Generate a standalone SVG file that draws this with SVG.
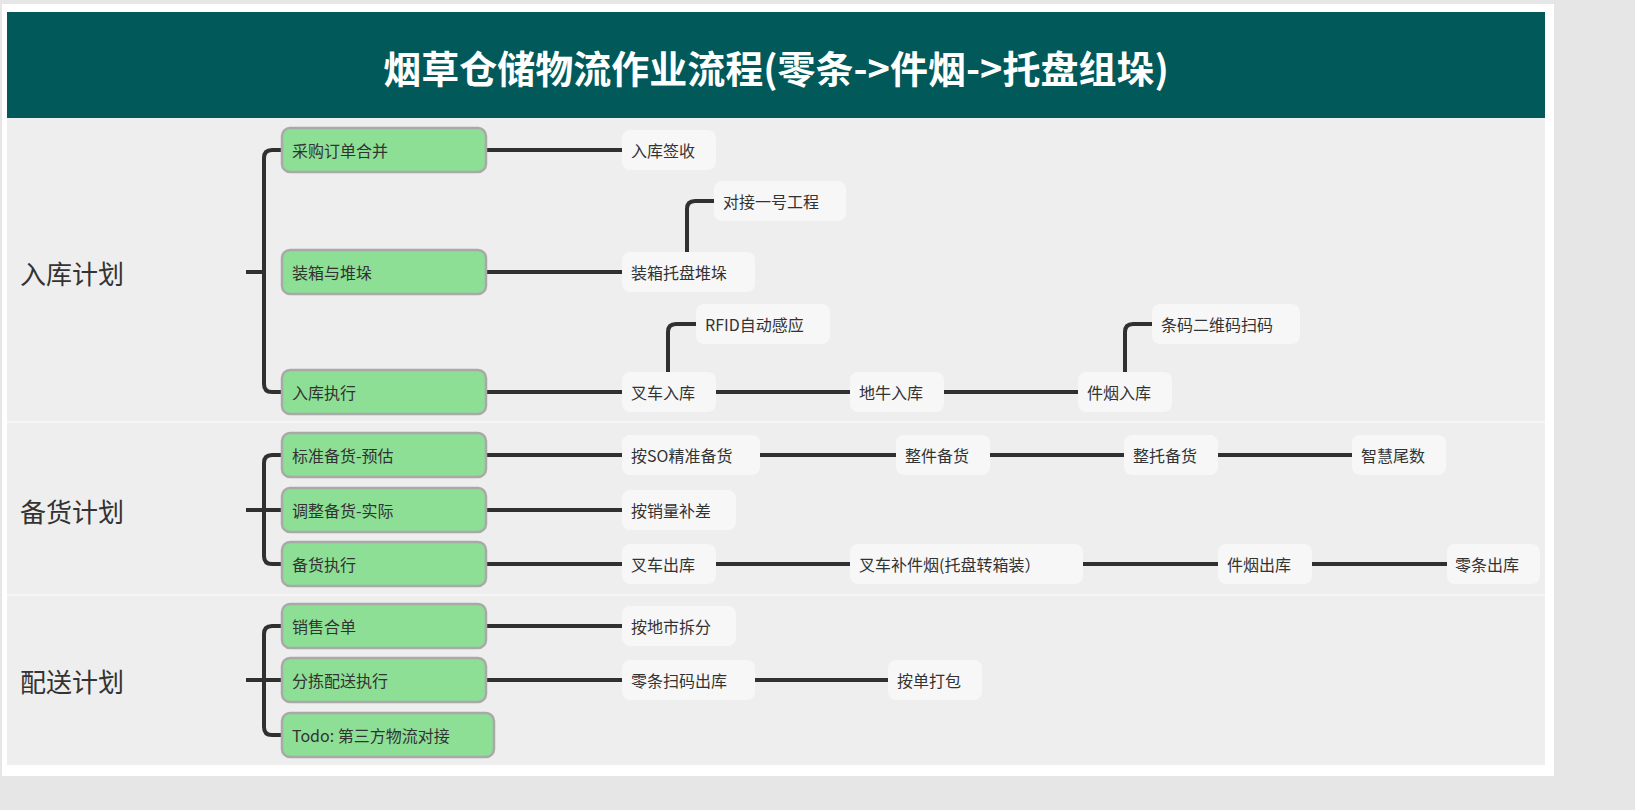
<svg xmlns="http://www.w3.org/2000/svg" width="1635" height="810" viewBox="0 0 1635 810">
<style>
.g rect{fill:#8ddf96;stroke:#a9a9a9;stroke-width:2.5}
.l rect{fill:#f7f7f7}
text{font-family:"Noto Sans CJK SC","Open Sans",sans-serif;fill:#333;dominant-baseline:central}
.t{font-size:16px}
.r{font-size:26px}
.c path{fill:none;stroke:#303030;stroke-width:4;stroke-linejoin:round}
</style>
<rect width="1635" height="810" fill="#e6e6e6"/>
<rect x="2" y="4" width="1552" height="772" fill="#fff"/>
<rect x="7" y="12" width="1538" height="753" fill="#eeeeee"/>
<rect x="7" y="12" width="1538" height="106" fill="#015959"/>
<line x1="7" y1="422" x2="1545" y2="422" stroke="#f6f6f6" stroke-width="2"/>
<line x1="7" y1="595" x2="1545" y2="595" stroke="#f6f6f6" stroke-width="2"/>
<text x="776" y="66" text-anchor="middle" style="font-size:38px;font-weight:bold;fill:#fff">烟草仓储物流作业流程(零条-&gt;件烟-&gt;托盘组垛)</text>
<g class="c">
<path d="M246 272H264M282 150H272Q264 150 264 158V384Q264 392 272 392H282"/>
<path d="M486 150H622M486 272H622M486 392H622M716 392H850M944 392H1078"/>
<path d="M687 252V209Q687 201 695 201H714M668 372V332Q668 324 676 324H696M1125 372V332Q1125 324 1133 324H1152"/>
<path d="M246 510H282M282 455H272Q264 455 264 463V556Q264 564 272 564H282"/>
<path d="M486 455H622M760 455H896M990 455H1124M1218 455H1352M486 510H622M486 564H622M716 564H850M1083 564H1218M1312 564H1447"/>
<path d="M246 680H282M282 626H272Q264 626 264 634V727Q264 735 272 735H282"/>
<path d="M486 626H622M486 680H622M755 680H888"/>
</g>
<g id="root1"><text class="r" x="20" y="272">入库计划</text></g>
<g id="root2"><text class="r" x="20" y="510">备货计划</text></g>
<g id="root3"><text class="r" x="20" y="680">配送计划</text></g>
<g class="g">
<g id="n1"><rect x="282" y="128" width="204" height="44" rx="8"/><text class="t" x="292" y="150">采购订单合并</text></g>
<g id="n2"><rect x="282" y="250" width="204" height="44" rx="8"/><text class="t" x="292" y="272">装箱与堆垛</text></g>
<g id="n3"><rect x="282" y="370" width="204" height="44" rx="8"/><text class="t" x="292" y="392">入库执行</text></g>
<g id="n4"><rect x="282" y="433" width="204" height="44" rx="8"/><text class="t" x="292" y="455">标准备货-预估</text></g>
<g id="n5"><rect x="282" y="488" width="204" height="44" rx="8"/><text class="t" x="292" y="510">调整备货-实际</text></g>
<g id="n6"><rect x="282" y="542" width="204" height="44" rx="8"/><text class="t" x="292" y="564">备货执行</text></g>
<g id="n7"><rect x="282" y="604" width="204" height="44" rx="8"/><text class="t" x="292" y="626">销售合单</text></g>
<g id="n8"><rect x="282" y="658" width="204" height="44" rx="8"/><text class="t" x="292" y="680">分拣配送执行</text></g>
<g id="n9"><rect x="282" y="713" width="212" height="44" rx="8"/><text class="t" x="292" y="735">Todo: 第三方物流对接</text></g>
</g>
<g class="l">
<g id="a1"><rect x="622" y="130" width="94" height="40" rx="8"/><text class="t" x="631" y="150">入库签收</text></g>
<g id="a2"><rect x="714" y="181" width="132" height="40" rx="8"/><text class="t" x="723" y="201">对接一号工程</text></g>
<g id="a3"><rect x="622" y="252" width="133" height="40" rx="8"/><text class="t" x="631" y="272">装箱托盘堆垛</text></g>
<g id="a4"><rect x="696" y="304" width="134" height="40" rx="8"/><text class="t" x="705" y="324">RFID自动感应</text></g>
<g id="a5"><rect x="622" y="372" width="94" height="40" rx="8"/><text class="t" x="631" y="392">叉车入库</text></g>
<g id="a6"><rect x="850" y="372" width="94" height="40" rx="8"/><text class="t" x="859" y="392">地牛入库</text></g>
<g id="a7"><rect x="1078" y="372" width="94" height="40" rx="8"/><text class="t" x="1087" y="392">件烟入库</text></g>
<g id="a8"><rect x="1152" y="304" width="148" height="40" rx="8"/><text class="t" x="1161" y="324">条码二维码扫码</text></g>
<g id="b1"><rect x="622" y="435" width="138" height="40" rx="8"/><text class="t" x="631" y="455">按SO精准备货</text></g>
<g id="b2"><rect x="896" y="435" width="94" height="40" rx="8"/><text class="t" x="905" y="455">整件备货</text></g>
<g id="b3"><rect x="1124" y="435" width="94" height="40" rx="8"/><text class="t" x="1133" y="455">整托备货</text></g>
<g id="b4"><rect x="1352" y="435" width="94" height="40" rx="8"/><text class="t" x="1361" y="455">智慧尾数</text></g>
<g id="b5"><rect x="622" y="490" width="114" height="40" rx="8"/><text class="t" x="631" y="510">按销量补差</text></g>
<g id="b6"><rect x="622" y="544" width="94" height="40" rx="8"/><text class="t" x="631" y="564">叉车出库</text></g>
<g id="b7"><rect x="850" y="544" width="233" height="40" rx="8"/><text class="t" x="859" y="564">叉车补件烟(托盘转箱装）</text></g>
<g id="b8"><rect x="1218" y="544" width="94" height="40" rx="8"/><text class="t" x="1227" y="564">件烟出库</text></g>
<g id="b9"><rect x="1447" y="544" width="93" height="40" rx="8"/><text class="t" x="1455" y="564">零条出库</text></g>
<g id="c1"><rect x="622" y="606" width="114" height="40" rx="8"/><text class="t" x="631" y="626">按地市拆分</text></g>
<g id="c2"><rect x="622" y="660" width="133" height="40" rx="8"/><text class="t" x="631" y="680">零条扫码出库</text></g>
<g id="c3"><rect x="888" y="660" width="94" height="40" rx="8"/><text class="t" x="897" y="680">按单打包</text></g>
</g>
</svg>
